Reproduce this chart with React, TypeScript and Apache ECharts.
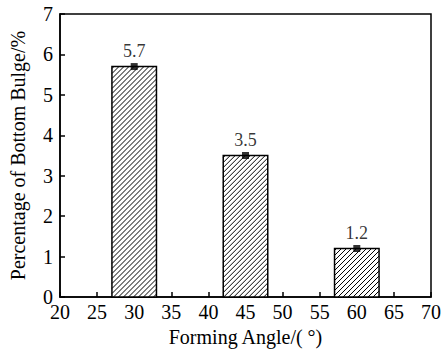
import React, { useEffect, useRef } from "react";
import * as echarts from "echarts";

const angles = [30, 45, 60];
const bulge = [5.7, 3.5, 1.2];
const bulgeLabels = ["5.7", "3.5", "1.2"];
const xTicks = [20, 25, 30, 35, 40, 45, 50, 55, 60, 65, 70];
const yTicks = [0, 1, 2, 3, 4, 5, 6, 7];

const FONT = "'Liberation Serif', 'DejaVu Serif', serif";
const BAR_HALF = 3;
const HATCH = 5;

export default function App() {
  const ref = useRef<HTMLDivElement>(null);
  useEffect(() => {
    if (!ref.current) return;
    const chart = echarts.init(ref.current, null, { renderer: "svg" });
    const data = angles.map((a, i) => [a, bulge[i]]);
    const renderItem = (params: any, api: any) => {
      const x = api.value(0);
      const v = api.value(1);
      const tl = api.coord([x - BAR_HALF, v]);
      const br = api.coord([x + BAR_HALF, 0]);
      const x0 = tl[0], y0 = tl[1], x1 = br[0], y1 = br[1];
      const children: any[] = [
        {
          type: "rect",
          shape: { x: x0, y: y0, width: x1 - x0, height: y1 - y0 },
          style: { fill: "#fff", stroke: "none" },
        },
      ];
      const cStart = x0 + y0;
      const cEnd = x1 + y1;
      for (let c = cStart + 2; c < cEnd; c += HATCH) {
        const xa = Math.max(x0, c - y1);
        const xb = Math.min(x1, c - y0);
        if (xb - xa > 0.5) {
          children.push({
            type: "line",
            shape: { x1: xa, y1: c - xa, x2: xb, y2: c - xb },
            style: { stroke: "#000", lineWidth: 1 },
          });
        }
      }
      children.push({
        type: "rect",
        shape: { x: x0, y: y0, width: x1 - x0, height: y1 - y0 },
        style: { fill: "none", stroke: "#000", lineWidth: 1.5 },
      });
      return { type: "group", children };
    };
    chart.setOption({
      animation: false,
      backgroundColor: "#fff",
      grid: {
        left: 60,
        right: 16,
        top: 14,
        bottom: 56,
        show: true,
        borderColor: "#000",
        borderWidth: 1.5,
        backgroundColor: "transparent",
      },
      xAxis: {
        type: "value",
        min: xTicks[0],
        max: xTicks[xTicks.length - 1],
        interval: 5,
        name: "Forming Angle/( °)",
        nameLocation: "middle",
        nameGap: 29,
        nameTextStyle: { fontFamily: FONT, fontSize: 20, color: "#000" },
        axisLine: { lineStyle: { color: "#000", width: 1.5 } },
        axisTick: { inside: true, length: 5, lineStyle: { color: "#000", width: 1.5 } },
        axisLabel: { fontFamily: FONT, fontSize: 20, color: "#000", margin: 5 },
        splitLine: { show: false },
      },
      yAxis: {
        type: "value",
        min: yTicks[0],
        max: yTicks[yTicks.length - 1],
        interval: 1,
        name: "Percentage of Bottom Bulge/%",
        nameLocation: "middle",
        nameGap: 32,
        nameTextStyle: { fontFamily: FONT, fontSize: 20, color: "#000" },
        axisLine: { lineStyle: { color: "#000", width: 1.5 } },
        axisTick: { inside: true, length: 5, lineStyle: { color: "#000", width: 1.5 } },
        axisLabel: { fontFamily: FONT, fontSize: 20, color: "#000", margin: 7 },
        splitLine: { show: false },
      },
      series: [
        {
          type: "custom",
          renderItem,
          data,
          encode: { x: 0, y: 1 },
          z: 2,
        },
        {
          type: "scatter",
          data: data.map((d, i) => ({ value: d, label: { formatter: bulgeLabels[i] } })),
          symbol: "rect",
          symbolSize: 7,
          itemStyle: { color: "#000" },
          label: {
            show: true,
            position: "top",
            distance: 3,
            fontFamily: FONT,
            fontSize: 18,
            color: "#000",
          },
          z: 3,
        },
      ],
    });
    return () => chart.dispose();
  }, []);
  return (
    <div
      ref={ref}
      style={{ position: "absolute", left: 0, top: 0, width: 447, height: 353 }}
    />
  );
}
